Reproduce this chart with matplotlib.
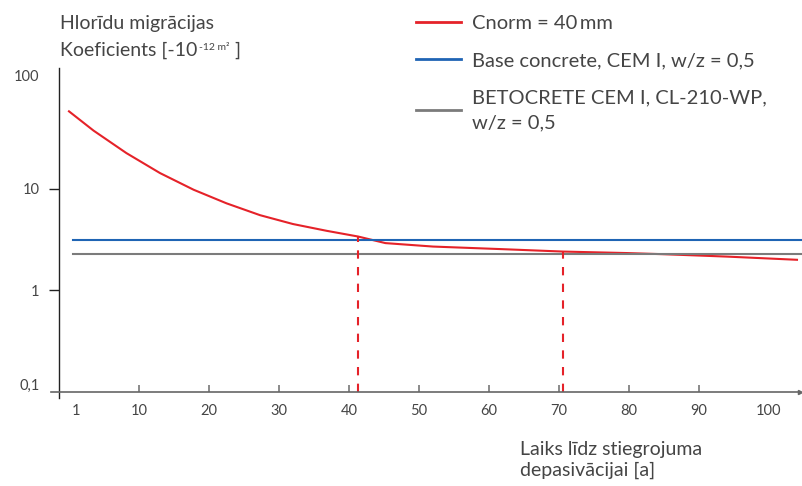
import matplotlib
matplotlib.use("Agg")
import matplotlib.pyplot as plt
import matplotlib.transforms as mtransforms
import numpy as np

plt.rcParams['font.family'] = ['Lato', 'DejaVu Sans']

# data
years_red = [0, 3.5, 8.2, 13, 17.8, 22.5, 27.3, 32, 36.8, 41.3, 45.2, 52, 61.6, 70.6, 79.7, 84.9, 94, 104]
vals_red = [58, 37.5, 22.5, 14.3, 9.8, 7.2, 5.5, 4.5, 3.86, 3.39, 2.92, 2.70, 2.55, 2.41, 2.33, 2.27, 2.15, 2.0]
years_flat = [0.6, 104.6]
base_val = 3.1
betocrete_val = 2.27
dash_years = [41.3, 70.6]
dash_tops = [3.39, 2.41]

x_ticks = [1, 10, 20, 30, 40, 50, 60, 70, 80, 90, 100]
y_ticks = [0.1, 1, 10, 100]
y_ticklabels = ['0,1', '1', '10', '100']

labels = ['Cnorm = 40\u2009mm', 'Base concrete, CEM I, w/z = 0,5',
          'BETOCRETE CEM I, CL-210-WP,\nw/z = 0,5']

red = '#e52229'
blue = '#1f64b4'
gray = '#7b7b7b'
txt = '#454545'

W, H = 803, 486
fig = plt.figure(figsize=(W/100, H/100), dpi=100)
ax = fig.add_axes([51/W, 1 - 398/H, 749/W, 330/H])

ax.plot(years_red, vals_red, color=red, lw=1.5, label=labels[0])
ax.plot(years_flat, [base_val]*2, color=blue, lw=1.5, label=labels[1], clip_on=False)
ax.plot(years_flat, [betocrete_val]*2, color=gray, lw=1.5, label=labels[2], clip_on=False)
ax.vlines(dash_years, 0.1, dash_tops, colors=red, linestyles=(0, (4, 4)), lw=1.5)

ax.set_yscale('log')
ax.set_xlim(-2.57, 104.43)
ax.set_ylim(0.087, 155)
ax.minorticks_off()

ax.spines['top'].set_visible(False)
ax.spines['right'].set_visible(False)
ax.spines['left'].set_position(('data', -1.43))
ax.spines['bottom'].set_position(('data', 0.1))
ax.spines['left'].set_color('#222222')
ax.spines['bottom'].set_color('#666666')
ax.spines['left'].set_linewidth(1.0)
ax.spines['bottom'].set_linewidth(1.2)

ax.set_xticks(x_ticks)
ax.set_xticklabels([str(v) for v in x_ticks])
ax.tick_params(axis='x', direction='in', length=5, width=1.2, color='#777777',
               pad=9, labelsize=10.5, labelcolor=txt)
ax.set_yticks(y_ticks)
ax.set_yticklabels(y_ticklabels)
ax.tick_params(axis='y', direction='out', length=7, width=1.0, color='#222222',
               pad=7, labelsize=10.5, labelcolor=txt)

xt = ax.xaxis.get_major_ticks()
xt[0].tick1line.set_visible(False)
xt[-1].tick1line.set_visible(False)
yt = ax.yaxis.get_major_ticks()
yt[0].tick1line.set_visible(False)
yt[-1].tick1line.set_visible(False)
# end labels sit a little higher in the original
for lab, dy in [(ax.get_yticklabels()[0], 7), (ax.get_yticklabels()[-1], 12)]:
    lab.set_transform(lab.get_transform() +
                      mtransforms.ScaledTranslation(0, dy/100, fig.dpi_scale_trans))

# small arrow tip at the end of the x axis
ax.plot([1], [0.1], marker='>', color='#666666', markersize=3,
        transform=mtransforms.blended_transform_factory(ax.transAxes, ax.transData),
        clip_on=False)

# y axis title, with the small superscript put after the main text
fig.text(60/W, 1 - 29/H, 'Hlorīdu migrācijas', fontsize=14, color=txt, va='baseline')
t1 = fig.text(60/W, 1 - 56/H, 'Koeficients [-10', fontsize=14, color=txt, va='baseline')
fig.canvas.draw()
r = fig.canvas.get_renderer()
bb = t1.get_window_extent(r)
t2 = fig.text((bb.x1 + 2)/W, 1 - 50/H, '-12 m²', fontsize=7.5, color=txt, va='baseline')
bb2 = t2.get_window_extent(r)
fig.text((bb2.x1 + 5)/W, 1 - 56/H, ']', fontsize=14, color=txt, va='baseline')

fig.text(520/W, 1 - 476/H, 'Laiks līdz stiegrojuma\ndepasivācijai [a]',
         fontsize=14, color=txt, ha='left', va='baseline', linespacing=1.3)

leg = fig.legend(loc='upper left', bbox_to_anchor=(416/W, 1 - 15/H), frameon=False,
                 fontsize=14.5, handlelength=2.25, handletextpad=0.55, labelspacing=1.0,
                 borderaxespad=0, borderpad=0)
for t in leg.get_texts():
    t.set_color(txt)
leg.get_texts()[2].set_linespacing(1.55)
for line in leg.get_lines():
    line.set_linewidth(2)

fig.savefig('out.png', dpi=100)
